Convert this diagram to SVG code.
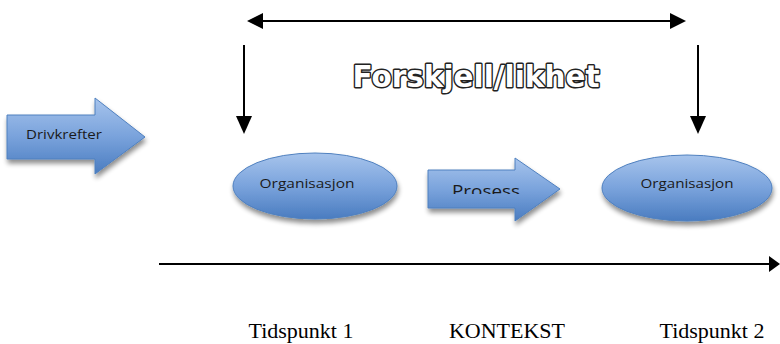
<svg xmlns="http://www.w3.org/2000/svg" width="780" height="344" viewBox="0 0 780 344">
<defs>
<linearGradient id="blue" x1="0" y1="0" x2="0" y2="1">
<stop offset="0" stop-color="#a7c4ec"/>
<stop offset="0.5" stop-color="#7aa3dc"/>
<stop offset="1" stop-color="#4a7cc0"/>
</linearGradient>
<filter id="sh" x="-20%" y="-20%" width="150%" height="160%">
<feGaussianBlur in="SourceAlpha" stdDeviation="2.5"/>
<feOffset dx="1" dy="4" result="b"/>
<feComponentTransfer><feFuncA type="linear" slope="0.45"/></feComponentTransfer>
<feMerge><feMergeNode/><feMergeNode in="SourceGraphic"/></feMerge>
</filter>
<clipPath id="pc"><rect x="430" y="160" width="100" height="34"/></clipPath>
</defs>
<style>
.shape{fill:url(#blue);stroke:#4f80bf;stroke-width:1;filter:url(#sh)}
.lbl{font-family:"Open Sans","Liberation Sans",sans-serif;fill:#1a1a1a;text-anchor:middle}
.bot{font-family:"Liberation Serif","Times New Roman",serif;font-size:22px;fill:#000;text-anchor:middle}
.ln{stroke:#000;stroke-width:2;fill:none}
.hd{fill:#000}
</style>
<rect width="780" height="344" fill="#fff"/>

<g id="drivkrefter">
<path class="shape" d="M7,115 H95 V98 L145,137 L95,174 V159 H7 Z"/>
<text class="lbl" x="64" y="139" font-size="13" textLength="76" lengthAdjust="spacingAndGlyphs">Drivkrefter</text>
</g>

<g id="org1">
<ellipse class="shape" cx="315" cy="186" rx="82" ry="33"/>
<text class="lbl" x="307" y="188" font-size="13" textLength="95" lengthAdjust="spacingAndGlyphs">Organisasjon</text>
</g>

<g id="prosess">
<path class="shape" d="M428,170 H515 V158 L560,189 L515,221 V208 H428 Z"/>
<text class="lbl" x="486" y="197" font-size="17" textLength="68" lengthAdjust="spacingAndGlyphs" clip-path="url(#pc)">Prosess</text>
</g>

<g id="org2">
<ellipse class="shape" cx="687" cy="188" rx="85" ry="33"/>
<text class="lbl" x="687" y="188" font-size="13" textLength="93" lengthAdjust="spacingAndGlyphs">Organisasjon</text>
</g>

<g id="title">
<text x="476" y="87" font-family="'DejaVu Sans','Liberation Sans',sans-serif" font-weight="bold" font-size="31" fill="#fff" stroke="#222" stroke-width="3" stroke-linejoin="round" paint-order="stroke" text-anchor="middle" textLength="247" lengthAdjust="spacingAndGlyphs">Forskjell/likhet</text>
</g>

<g id="connectors">
<line class="ln" x1="262" y1="21" x2="671" y2="21"/>
<path class="hd" d="M247,21 L263,13 L263,29 Z"/>
<path class="hd" d="M686,21 L670,13 L670,29 Z"/>
<line class="ln" x1="244" y1="45" x2="244" y2="118"/>
<path class="hd" d="M236,116 L252,116 L244,134 Z"/>
<line class="ln" x1="698" y1="45" x2="698" y2="118"/>
<path class="hd" d="M690,116 L706,116 L698,134 Z"/>
<line class="ln" x1="159" y1="264" x2="771" y2="264"/>
<path class="hd" d="M769,256 L780,264 L769,272 Z"/>
</g>

<g id="labels">
<text class="bot" x="301" y="338">Tidspunkt 1</text>
<text class="bot" x="507" y="338">KONTEKST</text>
<text class="bot" x="712" y="338">Tidspunkt 2</text>
</g>
</svg>
